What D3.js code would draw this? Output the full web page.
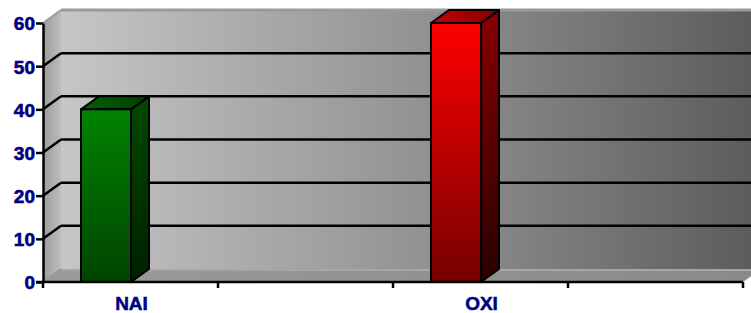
<!DOCTYPE html>
<html>
<head>
<meta charset="utf-8">
<script src="https://cdn.jsdelivr.net/npm/d3@7"></script>
<style>
  body { margin: 0; background: #fff; }
  text { font-family: Arial, "Liberation Sans", sans-serif; font-weight: bold; fill: #000080; }
</style>
</head>
<body>
<div id="chart"></div>
<script>
// categories on the x axis (two of the four slots are empty)
var categories = ["NAI", "", "OXI", ""];
var values = [40, null, 60, null];
var yTicks = [0, 10, 20, 30, 40, 50, 60];
var barColors = ["green", null, "red", null];

var width = 751, height = 313;
var depth = { dx: 18, dy: -13 };   // 3d offset of back wall

var svg = d3.select("#chart").append("svg")
    .attr("width", width)
    .attr("height", height);

var y = d3.scaleLinear().domain([0, 60]).range([282, 23]);
var x = d3.scaleBand().domain(d3.range(categories.length)).range([43, 743]).padding(0);

var defs = svg.append("defs");

function linGrad(id, x1, y1, x2, y2, stops) {
    var g = defs.append("linearGradient").attr("id", id)
        .attr("x1", x1).attr("y1", y1).attr("x2", x2).attr("y2", y2);
    stops.forEach(function(s) {
        g.append("stop").attr("offset", s[0]).attr("stop-color", s[1]);
    });
}

linGrad("wallGrad", 0, 0, 1, 0, [[0, "#c6c6c6"], [0.5, "#939393"], [1, "#595959"]]);
linGrad("sideWall", 0, 0, 1, 0, [[0, "#9c9c9c"], [1, "#bdbdbd"]]);
linGrad("floorGrad", 0, 0, 1, 0, [[0, "#9a9a9a"], [1, "#8a8a8a"]]);
linGrad("greenFront", 0, 0, 0, 1, [[0, "#008400"], [1, "#004400"]]);
linGrad("greenSide", 0, 0, 0, 1, [[0, "#004a00"], [1, "#002000"]]);
linGrad("greenTop", 0, 0, 1, 0, [[0, "#006400"], [1, "#003c00"]]);
linGrad("redFront", 0, 0, 0, 1, [[0, "#ff0000"], [1, "#760000"]]);
linGrad("redSide", 0, 0, 0, 1, [[0, "#860000"], [1, "#2a0000"]]);
linGrad("redTop", 0, 0, 1, 0, [[0, "#c80000"], [1, "#800000"]]);

var x0 = x.range()[0], x1 = x.range()[1];
var yTop = y(60), yBot = y(0);

// back wall
svg.append("rect")
    .attr("x", x0 + depth.dx).attr("y", yTop + depth.dy)
    .attr("width", width - x0 - depth.dx + 20)
    .attr("height", yBot - yTop)
    .attr("fill", "url(#wallGrad)");

// left wall
svg.append("polygon")
    .attr("points", [[x0, yTop], [x0 + depth.dx, yTop + depth.dy], [x0 + depth.dx, yBot + depth.dy], [x0, yBot]].join(" "))
    .attr("fill", "url(#sideWall)");

// floor
svg.append("polygon")
    .attr("points", [[x0, yBot], [x0 + depth.dx, yBot + depth.dy], [x1 + depth.dx, yBot + depth.dy], [x1, yBot]].join(" "))
    .attr("fill", "url(#floorGrad)");
svg.append("line")
    .attr("x1", x0 + depth.dx).attr("x2", width)
    .attr("y1", yBot + depth.dy + 1).attr("y2", yBot + depth.dy + 1)
    .attr("stroke", "#a6a6a6").attr("stroke-width", 2);

// gridlines on back wall + diagonals on side wall
yTicks.forEach(function(t) {
    var edge = (t === 0 || t === 60);
    var col = edge ? "#9a9a9a" : "#000";
    svg.append("line")
        .attr("x1", x0).attr("y1", y(t))
        .attr("x2", x0 + depth.dx).attr("y2", y(t) + depth.dy)
        .attr("stroke", col).attr("stroke-width", edge ? 2 : 2.5);
    if (t !== 0) {
        svg.append("line")
            .attr("x1", x0 + depth.dx).attr("x2", width)
            .attr("y1", y(t) + depth.dy).attr("y2", y(t) + depth.dy)
            .attr("stroke", col).attr("stroke-width", edge ? 3 : 2.5);
    }
});

// bars
var barOff = 38, barW = 50;
categories.forEach(function(c, i) {
    if (values[i] == null) return;
    var bx = x(i) + barOff, by = y(values[i]);
    var g = svg.append("g").attr("class", "bar");
    var name = barColors[i];
    g.append("polygon")
        .attr("points", [[bx + barW, by], [bx + barW + depth.dx, by + depth.dy], [bx + barW + depth.dx, yBot + depth.dy], [bx + barW, yBot]].join(" "))
        .attr("fill", "url(#" + name + "Side)")
        .attr("stroke", "#000").attr("stroke-width", 2).attr("stroke-linejoin", "round");
    g.append("polygon")
        .attr("points", [[bx, by], [bx + depth.dx, by + depth.dy], [bx + barW + depth.dx, by + depth.dy], [bx + barW, by]].join(" "))
        .attr("fill", "url(#" + name + "Top)")
        .attr("stroke", "#000").attr("stroke-width", 2).attr("stroke-linejoin", "round");
    g.append("rect")
        .attr("x", bx).attr("y", by)
        .attr("width", barW).attr("height", yBot - by)
        .attr("fill", "url(#" + name + "Front)")
        .attr("stroke", "#000").attr("stroke-width", 2);
});

// y axis
var yAxis = svg.append("g")
    .attr("transform", "translate(" + x0 + ",0)")
    .call(d3.axisLeft(y).tickValues(yTicks).tickSize(7).tickSizeOuter(0).tickPadding(1));
yAxis.select(".domain").attr("stroke", "#000").attr("stroke-width", 2.5);
yAxis.selectAll(".tick line").attr("stroke", "#000").attr("stroke-width", 2.5);
yAxis.selectAll(".tick text")
    .attr("font-size", 19).attr("font-weight", "bold").attr("fill", "#000080")
    .attr("stroke", "#000080").attr("stroke-width", 0.6)
    .attr("dy", "0.36em")
    .attr("font-family", "Arial, 'Liberation Sans', sans-serif");

// x axis
var xAxis = svg.append("g").attr("transform", "translate(0," + yBot + ")");
xAxis.append("line")
    .attr("x1", x0 - 7).attr("x2", x1)
    .attr("stroke", "#000").attr("stroke-width", 2.5);
d3.range(categories.length + 1).forEach(function(i) {
    var tx = i < categories.length ? x(i) : x1;
    xAxis.append("line")
        .attr("x1", tx).attr("x2", tx).attr("y1", 0).attr("y2", 6)
        .attr("stroke", "#000").attr("stroke-width", 2.5);
});
xAxis.selectAll("text.cat").data(categories).enter().append("text")
    .attr("class", "cat")
    .attr("x", function(d, i) { return x(i) + x.bandwidth() / 2 + 1; })
    .attr("y", 28)
    .attr("text-anchor", "middle")
    .attr("font-size", 19)
    .attr("font-weight", "bold")
    .attr("stroke", "#000080").attr("stroke-width", 0.5)
    .text(function(d) { return d; });
</script>
</body>
</html>
